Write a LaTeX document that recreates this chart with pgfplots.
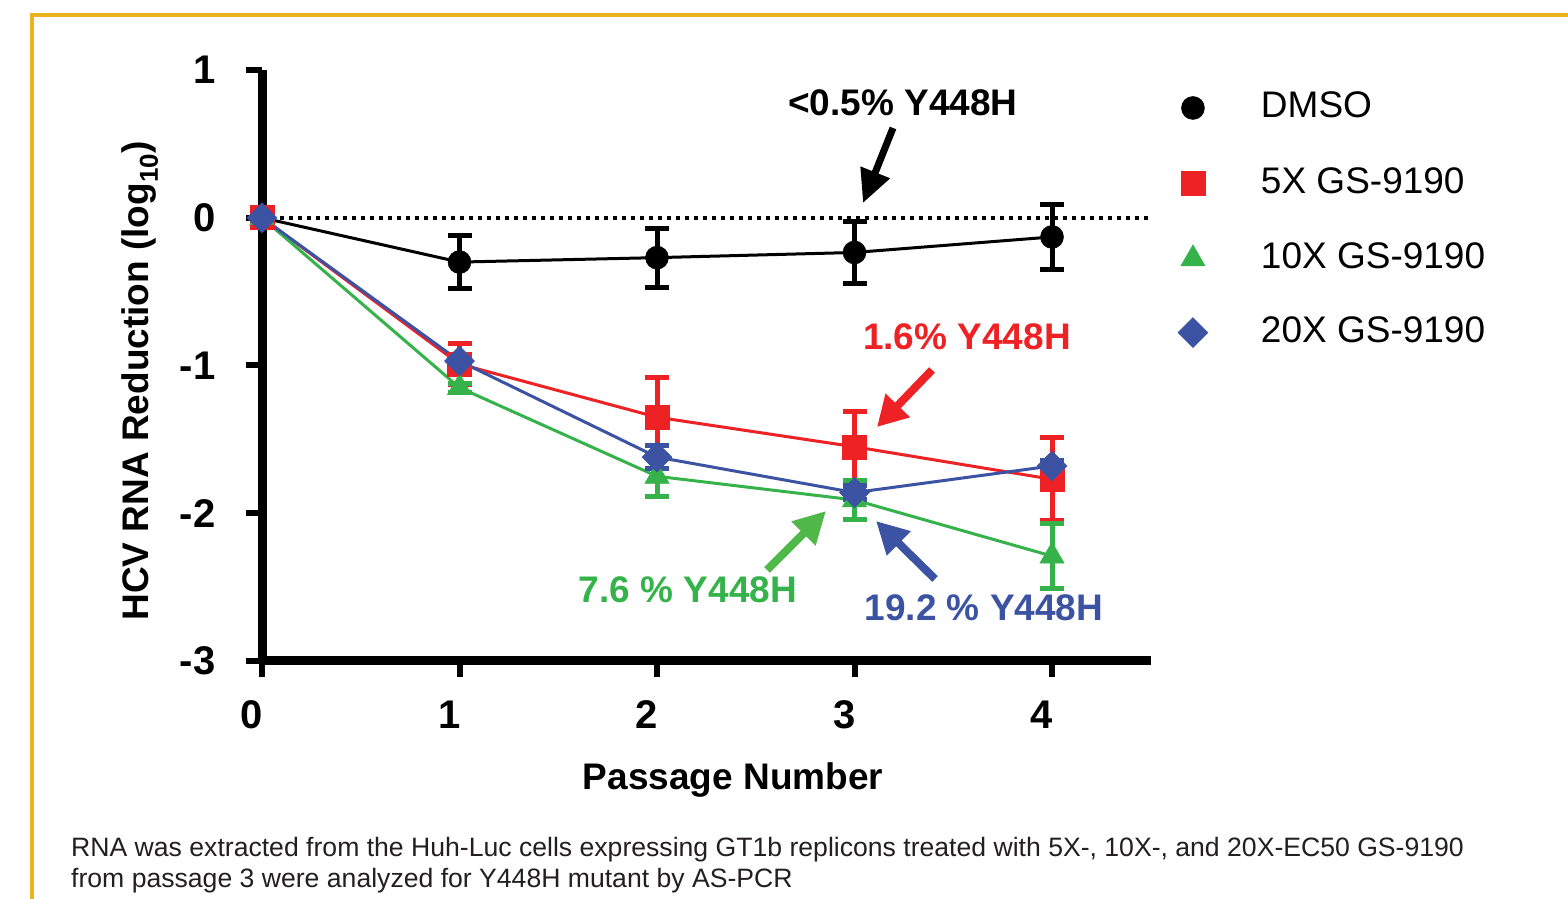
\documentclass[border=0pt]{standalone}
\usepackage{pgfplots}
\pgfplotsset{compat=1.18}
\usepackage{pgfplotstable}
\usepackage{fontspec}
\setmainfont{Liberation Sans}
\usetikzlibrary{arrows.meta}
\definecolor{goldf}{HTML}{EDB21C}
\definecolor{myred}{HTML}{EE2124}
\definecolor{mygreen}{HTML}{35B34A}
\definecolor{mygreenA}{HTML}{50B848}
\definecolor{myblue}{HTML}{3C53A4}
\definecolor{captxt}{HTML}{231F20}

\pgfplotstableread{
x y e
0 0 0
1 -0.30 0.18
2 -0.27 0.20
3 -0.235 0.21
4 -0.13 0.22
}\dmso
\pgfplotstableread{
x y e
0 0 0
1 -0.99 0.14
2 -1.35 0.27
3 -1.55 0.24
4 -1.77 0.28
}\fivex
\pgfplotstableread{
x y e
0 0 0
1 -1.15 0.03
2 -1.75 0.14
3 -1.91 0.13
4 -2.29 0.22
}\tenx
\pgfplotstableread{
x y e
0 0 0
1 -0.97 0.03
2 -1.62 0.08
3 -1.86 0.05
4 -1.68 0.04
}\twentyx

\begin{document}
\begin{tikzpicture}[x=1pt,y=1pt]
\useasboundingbox (0,0) rectangle (1568,899);
\fill[white] (0,0) rectangle (1568,899);
\begin{axis}[
  at={(262pt,238pt)}, anchor=south west,
  scale only axis, width=888.75pt, height=591pt,
  xmin=0, xmax=4.5, ymin=-3, ymax=1,
  clip=false,
  axis x line*=bottom, axis y line*=left,
  axis line style={line width=9pt, black},
  xtick={0,1,2,3,4}, xticklabels={0,1,2,3,4},
  ytick={-3,-2,-1,0,1}, yticklabels={-3,-2,-1,0,1},
  tick align=outside, major tick length=16pt,
  tick style={line width=6pt, black},
  ticklabel style={font=\fontsize{40}{40}\selectfont\bfseries},
  xticklabel style={xshift=-10pt, yshift=-20pt},
  yticklabel style={xshift=-27pt},
  xlabel={Passage Number},
  ylabel={HCV RNA Reduction (log\textsubscript{10})},
  label style={font=\fontsize{37}{37}\selectfont\bfseries},
  xlabel style={at={(axis description cs:0.530,-0.218)}, anchor=base},
  ylabel style={at={(axis description cs:-0.128,0.474)}, anchor=base, rotate=0},
  legend style={at={(1.025,0.9628)}, anchor=north west, draw=none, fill=none,
    inner sep=0pt, outer sep=0pt, row sep=47.7pt, column sep=48pt,
    font=\fontsize{37}{37}\selectfont,
    nodes={inner sep=0pt, text height=26pt, text depth=0pt, anchor=west}},
  legend cell align=left,
  legend image code/.code={\draw[#1, only marks] plot coordinates {(0pt,-3pt)}; \path[draw=none, fill=none] (-20pt,-13pt) rectangle (20pt,13pt);},
]
\draw[line width=4pt, dash pattern=on 4pt off 5pt] (axis cs:0,0) -- (axis cs:4.5,0);

\addplot[black, line width=3pt, mark=*, mark size=11.5pt, mark options={solid, fill=black, line width=0.5pt},
  error bars/.cd, y dir=both, y explicit, error mark=|,
  error bar style={line width=5pt, black, solid},
  error mark options={line width=5pt, mark size=12pt, black, solid}]
  table[x=x, y=y, y error=e] {\dmso};
\addlegendentry{DMSO}
\addplot[myred, line width=3pt, mark=square*, mark size=12pt, mark options={solid, fill=myred, line width=0.5pt},
  error bars/.cd, y dir=both, y explicit, error mark=|,
  error bar style={line width=5pt, myred, solid},
  error mark options={line width=5pt, mark size=12pt, myred, solid}]
  table[x=x, y=y, y error=e] {\fivex};
\addlegendentry{5X GS-9190}
\addplot[mygreen, line width=3pt, mark=triangle*, mark size=14pt, mark options={solid, fill=mygreen, line width=0.5pt},
  error bars/.cd, y dir=both, y explicit, error mark=|,
  error bar style={line width=5pt, mygreen, solid},
  error mark options={line width=5pt, mark size=12pt, mygreen, solid}]
  table[x=x, y=y, y error=e] {\tenx};
\addlegendentry{10X GS-9190}
\addplot[myblue, line width=3pt, mark=square*, mark size=10.6pt, mark options={solid, fill=myblue, line width=0.5pt, rotate=45},
  error bars/.cd, y dir=both, y explicit, error mark=|,
  error bar style={line width=5pt, myblue, solid},
  error mark options={line width=5pt, mark size=12pt, myblue, solid}]
  table[x=x, y=y, y error=e] {\twentyx};
\addlegendentry{20X GS-9190}
\end{axis}

% annotations
\node[font=\fontsize{37}{37}\selectfont\bfseries, inner sep=0pt] at (903,796) {<0.5\% Y448H};
\draw[line width=7pt, -{Triangle[width=30pt,length=33pt]}] (893,771) -- (863,696);
\node[font=\fontsize{37}{37}\selectfont\bfseries, inner sep=0pt, text=myred] at (967,562) {1.6\% Y448H};
\draw[myred, line width=8pt, -{Triangle[width=32pt,length=30pt]}] (932,529) -- (877,472);
\node[font=\fontsize{37}{37}\selectfont\bfseries, inner sep=0pt, text=mygreen] at (688,309) {7.6 \% Y448H};
\draw[mygreenA, line width=8pt, -{Triangle[width=32pt,length=32pt]}] (767,329) -- (826,388);
\node[font=\fontsize{37}{37}\selectfont\bfseries, inner sep=0pt, text=myblue] at (984,291) {19.2 \% Y448H};
\draw[myblue, line width=8pt, -{Triangle[width=32pt,length=32pt]}] (935,320) -- (876,378);

% caption
\node[anchor=base west, inner sep=0pt, font=\fontsize{26.6}{31}\selectfont, text=captxt] at (71,42) {RNA was extracted from the Huh-Luc cells expressing GT1b replicons treated with 5X-, 10X-, and 20X-EC50 GS-9190};
\node[anchor=base west, inner sep=0pt, font=\fontsize{26.6}{31}\selectfont, text=captxt] at (71,11) {from passage 3 were analyzed for Y448H mutant by AS-PCR};

% frame
\draw[goldf, line width=4pt, line join=miter] (32,-10) -- (32,884) -- (1580,884);
\end{tikzpicture}
\end{document}
